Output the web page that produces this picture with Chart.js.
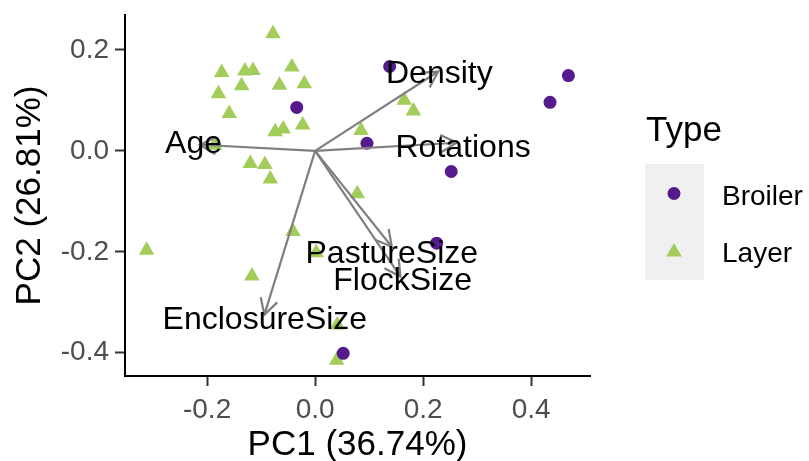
<!DOCTYPE html>
<html>
<head>
<meta charset="utf-8">
<script src="https://cdn.jsdelivr.net/npm/chart.js@4.4.1/dist/chart.umd.min.js"></script>
<style>
  html, body { margin: 0; padding: 0; background: #fff; }
  canvas { display: block; }
</style>
</head>
<body>
<canvas id="biplot" width="809" height="461"></canvas>
<script>
// scores
const broilerPC1 = [-0.034, 0.096, 0.138, 0.469, 0.435, 0.252, 0.225, 0.052];
const broilerPC2 = [0.086, 0.015, 0.167, 0.149, 0.096, -0.041, -0.183, -0.401];
const layerPC1 = [-0.078, -0.173, -0.130, -0.115, -0.043, -0.136, -0.066, -0.020, -0.179,
  -0.159, -0.023, -0.074, -0.059, 0.085, -0.120, -0.093, -0.083, -0.186, 0.078, 0.165,
  0.182, -0.312, -0.041, 0.002, -0.117, 0.041, 0.040];
const layerPC2 = [0.232, 0.155, 0.158, 0.159, 0.166, 0.129, 0.130, 0.133, 0.113,
  0.074, 0.051, 0.038, 0.043, 0.040, -0.025, -0.027, -0.056, 0.011, -0.085, 0.100,
  0.079, -0.197, -0.160, -0.202, -0.248, -0.345, -0.415];

// loadings (arrow tips) and where their names sit
const loadingNames = ["Age", "Density", "Rotations", "PastureSize", "FlockSize", "EnclosureSize"];
const loadingPC1 = [-0.213, 0.228, 0.262, 0.142, 0.158, -0.094];
const loadingPC2 = [0.012, 0.157, 0.016, -0.190, -0.249, -0.325];
const labelPC1 = [-0.225, 0.230, 0.274, 0.142, 0.162, -0.093];
const labelPC2 = [0.018, 0.157, 0.010, -0.199, -0.253, -0.330];

const xTicks = [-0.2, 0, 0.2, 0.4];
const yTicks = [-0.4, -0.2, 0, 0.2];
const xTitle = "PC1 (36.74%)";
const yTitle = "PC2 (26.81%)";
const typeNames = ["Broiler", "Layer"];

const purple = "#551A8B";
const green = "#A2CD5A";
const FONT = "'Liberation Sans', Arial, sans-serif";

const biplotLayer = {
  id: "biplotLayer",
  afterDatasetsDraw(chart) {
    const { ctx, scales: { x, y } } = chart;
    const ox = x.getPixelForValue(0);
    const oy = y.getPixelForValue(0);
    const head = 18, spread = 0.5;
    ctx.save();
    ctx.strokeStyle = "#7f7f7f";
    ctx.lineWidth = 2.2;
    loadingNames.forEach((name, i) => {
      const tx = x.getPixelForValue(loadingPC1[i]);
      const ty = y.getPixelForValue(loadingPC2[i]);
      const a = Math.atan2(ty - oy, tx - ox);
      ctx.beginPath();
      ctx.moveTo(ox, oy);
      ctx.lineTo(tx, ty);
      ctx.moveTo(tx - head * Math.cos(a - spread), ty - head * Math.sin(a - spread));
      ctx.lineTo(tx, ty);
      ctx.lineTo(tx - head * Math.cos(a + spread), ty - head * Math.sin(a + spread));
      ctx.stroke();
    });
    ctx.fillStyle = "#000";
    ctx.font = "32px " + FONT;
    ctx.textAlign = "center";
    ctx.textBaseline = "alphabetic";
    loadingNames.forEach((name, i) => {
      ctx.fillText(name, x.getPixelForValue(labelPC1[i]), y.getPixelForValue(labelPC2[i]) + 11.5);
    });
    ctx.restore();
  },
  afterDraw(chart) {
    // legend, ggplot style
    const ctx = chart.ctx;
    ctx.save();
    ctx.fillStyle = "#000";
    ctx.font = "35px " + FONT;
    ctx.textAlign = "left";
    ctx.textBaseline = "alphabetic";
    ctx.fillText("Type", 646, 141);
    ctx.fillStyle = "#f0f0f0";
    ctx.fillRect(645, 164, 59, 116);
    ctx.fillStyle = purple;
    ctx.beginPath();
    ctx.arc(674, 193.5, 6.5, 0, Math.PI * 2);
    ctx.fill();
    ctx.fillStyle = green;
    const r = 9;
    ctx.beginPath();
    ctx.moveTo(674, 252 - r);
    ctx.lineTo(674 + r * Math.sin(2 * Math.PI / 3), 252 + r / 2);
    ctx.lineTo(674 - r * Math.sin(2 * Math.PI / 3), 252 + r / 2);
    ctx.closePath();
    ctx.fill();
    ctx.fillStyle = "#000";
    ctx.font = "28px " + FONT;
    ctx.fillText(typeNames[0], 722, 205);
    ctx.fillText(typeNames[1], 722, 262);
    ctx.restore();
  }
};

const toPoints = (xs, ys) => xs.map((v, i) => ({ x: v, y: ys[i] }));

new Chart(document.getElementById("biplot"), {
  type: "scatter",
  data: {
    datasets: [
      {
        label: typeNames[0],
        data: toPoints(broilerPC1, broilerPC2),
        pointStyle: "circle",
        pointRadius: 6.5,
        backgroundColor: purple,
        borderWidth: 0,
      },
      {
        label: typeNames[1],
        data: toPoints(layerPC1, layerPC2),
        pointStyle: "triangle",
        pointRadius: 9,
        backgroundColor: green,
        borderWidth: 0,
      },
    ],
  },
  options: {
    responsive: false,
    animation: false,
    layout: { padding: { left: 0, right: 219, top: 15, bottom: 0 } },
    plugins: {
      legend: { display: false },
      tooltip: { enabled: false },
    },
    scales: {
      x: {
        type: "linear",
        min: -0.352,
        max: 0.509,
        afterBuildTicks: (s) => { s.ticks = xTicks.map((v) => ({ value: v })); },
        afterFit: (s) => { s.height = 85; s.paddingLeft = 0; s.paddingRight = 0; },
        grid: { drawOnChartArea: false, drawTicks: true, tickLength: 10, tickColor: "#333", tickWidth: 2 },
        border: { display: true, color: "#000", width: 2 },
        ticks: {
          color: "#4d4d4d",
          padding: 7,
          font: { family: FONT, size: 28 },
          callback: (v) => v.toFixed(1),
        },
        title: {
          display: true,
          text: xTitle,
          color: "#000",
          font: { family: FONT, size: 35, lineHeight: 1 },
          padding: { top: 0, bottom: -2 },
        },
      },
      y: {
        type: "linear",
        min: -0.446,
        max: 0.269,
        afterBuildTicks: (s) => { s.ticks = yTicks.map((v) => ({ value: v })); },
        afterFit: (s) => { s.width = 125; s.paddingTop = 0; s.paddingBottom = 0; },
        grid: { drawOnChartArea: false, drawTicks: true, tickLength: 10, tickColor: "#333", tickWidth: 2 },
        border: { display: true, color: "#000", width: 2 },
        ticks: {
          color: "#4d4d4d",
          padding: 6,
          font: { family: FONT, size: 28 },
          callback: (v) => v.toFixed(1),
        },
        title: {
          display: true,
          text: yTitle,
          color: "#000",
          font: { family: FONT, size: 35, lineHeight: 1 },
          padding: { top: 13, bottom: 0 },
        },
      },
    },
  },
  plugins: [biplotLayer],
});
</script>
</body>
</html>
